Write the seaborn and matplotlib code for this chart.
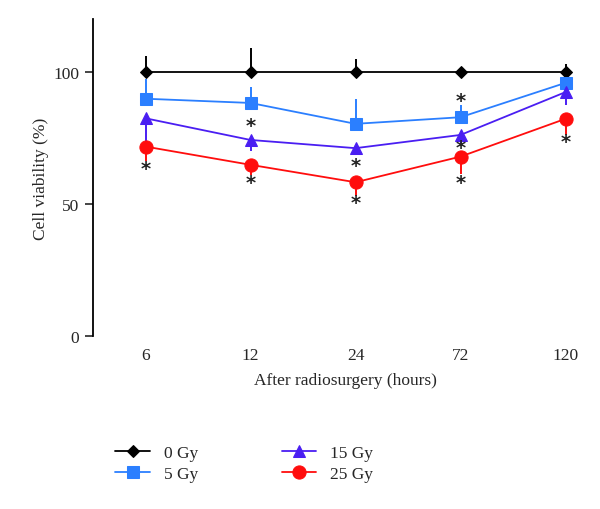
import numpy as np
import pandas as pd
import matplotlib
matplotlib.use("Agg")
import matplotlib.pyplot as plt
import seaborn as sns

# === data ===
hours = ["6", "12", "24", "72", "120"]
doses = ["0 Gy", "5 Gy", "15 Gy", "25 Gy"]

viab_0 = [100, 100, 100, 100, 100]
viab_5 = [89.8, 88.2, 80.3, 82.8, 95.8]
viab_15 = [82.4, 74.2, 71.1, 76.1, 92.3]
viab_25 = [71.7, 64.8, 58.2, 67.9, 82.2]

# one-sided error bars: up for 0/5 Gy, down for 15/25 Gy
err_0 = [6.0, 9.0, 4.7, 0.8, 3.0]
err_5 = [7.5, 6.0, 9.5, 4.8, 1.0]
err_15 = [10.7, 4.0, 2.0, 4.0, 5.0]
err_25 = [5.3, 4.0, 5.3, 6.5, 6.0]

# significance marks (x category, y value)
star_x = ["6", "12", "12", "24", "24", "72", "72", "72", "120"]
star_y = [63.3, 79.5, 58.0, 64.5, 50.4, 89.1, 71.2, 58.0, 73.5]

colors = {"0 Gy": "#000000", "5 Gy": "#2b7fff", "15 Gy": "#4a1ef2", "25 Gy": "#ff0d0d"}
markers = {"0 Gy": "D", "5 Gy": "s", "15 Gy": "^", "25 Gy": "o"}
msize = {"0 Gy": 6.5, "5 Gy": 8.5, "15 Gy": 9, "25 Gy": 9.5}

df = pd.DataFrame({
    "hours": hours * 4,
    "dose": np.repeat(doses, len(hours)),
    "viability": viab_0 + viab_5 + viab_15 + viab_25,
})

sns.set_style("white")
plt.rcParams["font.family"] = ["Liberation Serif", "DejaVu Serif"]

fig = plt.figure(figsize=(6, 5.1), dpi=100)
ax = fig.add_axes([0.155, 0.339, 0.84, 0.622])

# error bars first so markers sit on top
errs = {"0 Gy": (err_0, "up"), "5 Gy": (err_5, "up"),
        "15 Gy": (err_15, "down"), "25 Gy": (err_25, "down")}
vals = {"0 Gy": viab_0, "5 Gy": viab_5, "15 Gy": viab_15, "25 Gy": viab_25}
for d in doses:
    e, side = errs[d]
    zeros = [0] * len(e)
    yerr = [zeros, e] if side == "up" else [e, zeros]
    ax.errorbar(hours, vals[d], yerr=yerr, fmt="none", ecolor=colors[d],
                elinewidth=1.4, capsize=0, zorder=2)

for d in doses:
    sub = df[df["dose"] == d]
    sns.lineplot(data=sub, x="hours", y="viability", color=colors[d],
                 marker=markers[d], markersize=msize[d], markeredgecolor=colors[d],
                 linewidth=1.3, ax=ax, label=d, zorder=3, sort=False)

for sx, sy in zip(star_x, star_y):
    ax.text(sx, sy, "*", ha="center", va="center", fontsize=14, color="#222222",
            family="DejaVu Sans", fontweight="bold")

ax.set_xlim(-0.5, 4.3)
ax.set_ylim(0, 120)
ax.set_yticks([0, 50, 100])
ax.tick_params(axis="y", direction="out", length=6, width=1.2, left=True,
               labelsize=12.5, pad=4)
ax.tick_params(axis="x", length=0, labelsize=12.5, pad=8)
for s in ["top", "right", "bottom"]:
    ax.spines[s].set_visible(False)
ax.spines["left"].set_linewidth(1.3)
ax.spines["left"].set_color("black")

ax.set_xlabel("After radiosurgery (hours)", fontsize=12.5, labelpad=6)
ax.set_ylabel("Cell viability (%)", fontsize=12.5, labelpad=3)

handles, labels = ax.get_legend_handles_labels()
ax.legend(handles, labels, ncol=2, frameon=False, loc="upper left",
          bbox_to_anchor=(0.178, 0.143), bbox_transform=fig.transFigure,
          fontsize=12.5, handlelength=2.0, columnspacing=4.8, labelspacing=0.3,
          borderpad=0, handletextpad=0.8)

fig.savefig("out.png", dpi=100)
